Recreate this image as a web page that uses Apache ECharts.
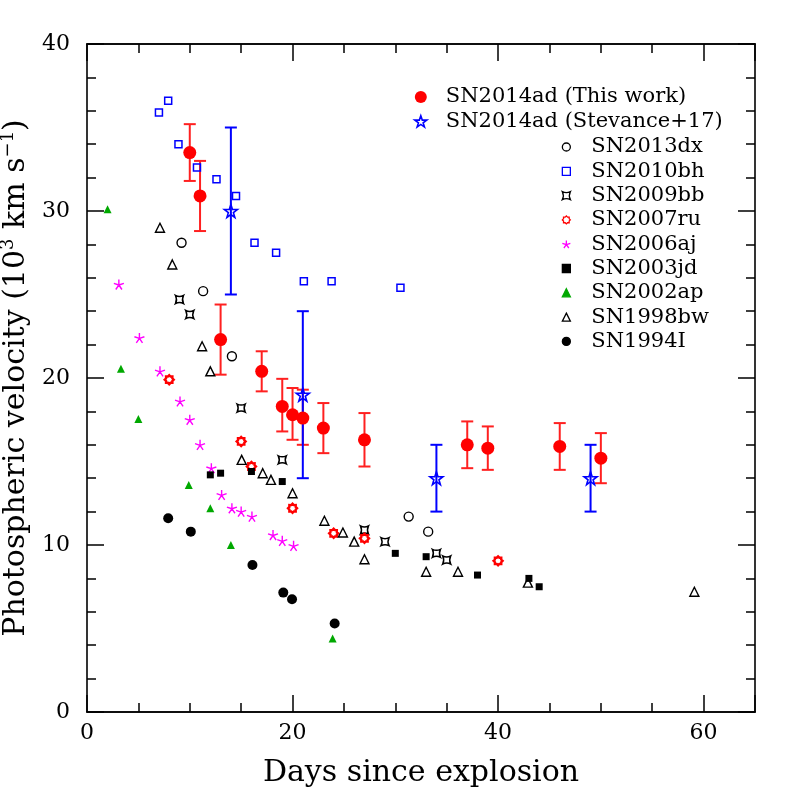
<!DOCTYPE html>
<html>
<head>
<meta charset="utf-8">
<script src="https://cdn.jsdelivr.net/npm/echarts@6/dist/echarts.min.js"></script>
<style>
html, body { margin: 0; padding: 0; background: #fff; }
#chart-container { width: 797px; height: 797px; }
</style>
</head>
<body>
<div id="chart-container"></div>
<script>
// SN2014ad, this work: day, velocity, lower and upper error
const adDays = [10, 11, 13, 17, 19, 20, 21, 23, 27, 37, 39, 46, 50];
const adVel = [33.5, 30.9, 22.3, 20.4, 18.3, 17.8, 17.6, 17.0, 16.3, 16.0, 15.8, 15.9, 15.2];
const adLo = [31.8, 28.8, 20.2, 19.2, 16.8, 16.3, 16.0, 15.5, 14.7, 14.6, 14.5, 14.5, 13.7];
const adHi = [35.2, 33.0, 24.4, 21.6, 19.95, 19.4, 19.3, 18.5, 17.9, 17.4, 17.1, 17.3, 16.7];

// SN2014ad, Stevance+17
const stDays = [14, 21, 34, 49];
const stVel = [30, 19, 14, 14];
const stLo = [25, 14, 12, 12];
const stHi = [35, 24, 16, 16];

// comparison objects, [day, velocity]
const sn2013dx = [[9.2, 28.1], [11.3, 25.2], [14.1, 21.3], [31.3, 11.7], [33.2, 10.8]];
const sn2010bh = [[7.0, 35.9], [7.9, 36.6], [8.9, 34.0], [10.7, 32.6], [12.6, 31.9], [14.5, 30.9],
    [16.3, 28.1], [18.4, 27.5], [21.1, 25.8], [23.8, 25.8], [30.5, 25.4]];
const sn2009bb = [[9, 24.7], [10, 23.8], [15, 18.2], [19, 15.1], [27, 10.9], [29, 10.2], [34, 9.5], [35, 9.1]];
const sn2007ru = [[8, 19.9], [15, 16.2], [16, 14.7], [20, 12.2], [24, 10.7], [27, 10.4], [40, 9.05]];
const sn2006aj = [[3.1, 25.6], [5.1, 22.4], [7.1, 20.4], [9.05, 18.6], [10, 17.5], [11, 16.0], [12.1, 14.6],
    [13.1, 13.0], [14.1, 12.2], [15, 12.0], [16.05, 11.7], [18.1, 10.6], [19, 10.25], [20.1, 9.95]];
const sn2003jd = [[12, 14.2], [13, 14.3], [16, 14.4], [19, 13.8], [30, 9.5], [33, 9.3], [38, 8.2], [43, 8.0], [44, 7.5]];
const sn2002ap = [[2, 30.1], [3.3, 20.55], [5, 17.55], [9.9, 13.6], [12, 12.2], [14, 10.0], [23.9, 4.4]];
const sn1998bw = [[7.1, 29.0], [8.3, 26.8], [11.2, 21.9], [12, 20.4], [15.05, 15.1], [17.1, 14.3], [17.9, 13.9],
    [20, 13.1], [23.1, 11.45], [24.9, 10.75], [26, 10.2], [27, 9.15], [33, 8.4], [36.1, 8.4], [42.9, 7.75], [59.1, 7.2]];
const sn1994I = [[7.9, 11.6], [10.1, 10.8], [16.1, 8.8], [19.1, 7.15], [19.95, 6.75], [24.1, 5.3]];

const FONT = 'DejaVu Serif';
const INK = '#000';

// symbol shapes
const starPath = 'path://M50,0 L61.8,35.1 L98.1,35.1 L68.8,56.7 L79.4,91 L50,70 L20.6,91 L31.2,56.7 L1.9,35.1 L38.2,35.1 Z';
const crossStarPath = 'path://M0,0 Q5,2.5 10,0 Q7.5,5 10,10 Q5,7.5 0,10 Q2.5,5 0,0 Z';
const asteriskPath = 'path://M50,50 L50,0 M50,50 L97.6,34.5 M50,50 L79.4,90.5 M50,50 L20.6,90.5 M50,50 L2.4,34.5';
function burstPath(n) {
    let d = '';
    for (let i = 0; i < n * 2; i++) {
        const r = i % 2 ? 38 : 50;
        const a = Math.PI * i / n;
        d += (i ? ' L' : 'M') + (50 + r * Math.cos(a)).toFixed(1) + ',' + (50 + r * Math.sin(a)).toFixed(1);
    }
    return 'path://' + d + ' Z';
}

function errorBars(name, days, lo, hi, color) {
    return {
        type: 'custom',
        name: name,
        silent: true,
        z: 2,
        data: days.map((d, i) => [d, lo[i], hi[i]]),
        encode: { x: 0, y: [1, 2] },
        renderItem: function (params, api) {
            const top = api.coord([api.value(0), api.value(2)]);
            const bot = api.coord([api.value(0), api.value(1)]);
            const hw = 6;
            const style = { stroke: color, lineWidth: 2, fill: null };
            return {
                type: 'group',
                children: [
                    { type: 'line', shape: { x1: top[0], y1: top[1], x2: bot[0], y2: bot[1] }, style: style },
                    { type: 'line', shape: { x1: top[0] - hw, y1: top[1], x2: top[0] + hw, y2: top[1] }, style: style },
                    { type: 'line', shape: { x1: bot[0] - hw, y1: bot[1], x2: bot[0] + hw, y2: bot[1] }, style: style }
                ]
            };
        }
    };
}

function scatter(name, data, symbol, size, fill, stroke, bw) {
    return {
        type: 'scatter',
        name: name,
        data: data,
        symbol: symbol,
        symbolSize: size,
        z: 3,
        itemStyle: { color: fill, borderColor: stroke, borderWidth: bw, opacity: 1 },
        emphasis: { disabled: true }
    };
}

const lineStyle = { color: INK, width: 1.6 };
function xAxisDef(pos, interval, len, labels) {
    return {
        type: 'value', position: pos, min: 0, max: 65, interval: interval,
        axisLine: { show: true, onZero: false, lineStyle: lineStyle },
        axisTick: { show: true, inside: true, length: len, lineStyle: { color: INK, width: 1.5 } },
        axisLabel: labels ? {
            show: true, margin: 10, color: INK, fontFamily: FONT, fontSize: 22,
            formatter: (v) => (v % 20 === 0 ? String(v) : '')
        } : { show: false },
        splitLine: { show: false }
    };
}
function yAxisDef(pos, labels) {
    return {
        type: 'value', position: pos, min: 0, max: 40, interval: 10,
        axisLine: { show: true, onZero: false, lineStyle: lineStyle },
        axisTick: { show: true, inside: true, length: 17, lineStyle: { color: INK, width: 1.5 } },
        minorTick: { show: true, splitNumber: 5, length: 9, lineStyle: { color: INK, width: 1.5 } },
        axisLabel: labels ? {
            show: true, margin: 17, color: INK, fontFamily: FONT, fontSize: 22
        } : { show: false },
        splitLine: { show: false }
    };
}

const xMain = xAxisDef('bottom', 20, 17, true);
xMain.name = 'Days since explosion';
xMain.nameLocation = 'middle';
xMain.nameGap = 46;
xMain.nameTextStyle = { color: INK, fontFamily: FONT, fontSize: 30 };

const yMain = yAxisDef('left', true);
yMain.name = '{a|Photospheric velocity (10}{b|3}{a| km s}{b|\u22121}{a|)}';
yMain.nameLocation = 'middle';
yMain.nameGap = 51;
yMain.nameTextStyle = {
    rich: {
        a: { color: INK, fontFamily: FONT, fontSize: 30, lineHeight: 34 },
        b: { color: INK, fontFamily: FONT, fontSize: 18, lineHeight: 20, verticalAlign: 'top' }
    }
};

function legendText(pad) {
    return { color: INK, fontFamily: FONT, fontSize: 21, lineHeight: 24, padding: [0, 0, 0, pad] };
}

const chart = echarts.init(document.getElementById('chart-container'));
chart.setOption({
    backgroundColor: '#fff',
    animation: false,
    grid: { left: 87, top: 44, width: 668, height: 668, containLabel: false, outerBoundsMode: 'none' },
    xAxis: [
        xMain,
        xAxisDef('bottom', 5, 9, false),
        xAxisDef('top', 20, 17, false),
        xAxisDef('top', 5, 9, false)
    ],
    yAxis: [yMain, yAxisDef('right', false)],
    legend: [
        {
            orient: 'vertical', left: 409, top: 80, itemWidth: 12, itemHeight: 12, itemGap: 0.4,
            textStyle: legendText(14), selectedMode: false,
            data: [
                { name: 'SN2014ad (This work)' },
                { name: 'SN2014ad (Stevance+17)', itemStyle: { borderWidth: 1.6 } }
            ]
        },
        {
            orient: 'vertical', left: 556.7, top: 130, itemWidth: 8, itemHeight: 8, itemGap: 0.3,
            textStyle: legendText(16), selectedMode: false,
            data: ['SN2013dx', 'SN2010bh', 'SN2009bb', 'SN2007ru', 'SN2006aj', 'SN2003jd', 'SN2002ap', 'SN1998bw', 'SN1994I']
                .map((n) => ({ name: n, itemStyle: { borderWidth: 1.3 } }))
        }
    ],
    series: [
        scatter('SN2013dx', sn2013dx, 'circle', 9, 'rgba(0,0,0,0)', INK, 1.4),
        scatter('SN2010bh', sn2010bh, 'rect', 7, 'rgba(0,0,0,0)', '#0000ff', 1.5),
        scatter('SN2009bb', sn2009bb, crossStarPath, 8, 'rgba(0,0,0,0)', INK, 1.5),
        scatter('SN2007ru', sn2007ru, burstPath(8), 9, '#fff', '#ff0000', 2.4),
        scatter('SN2006aj', sn2006aj, asteriskPath, 10, 'rgba(0,0,0,0)', '#ff00ff', 1.4),
        scatter('SN2003jd', sn2003jd, 'rect', 7, INK, INK, 0),
        scatter('SN2002ap', sn2002ap, 'triangle', 8, '#00a800', '#00a800', 0),
        scatter('SN1998bw', sn1998bw, 'triangle', 9, 'rgba(0,0,0,0)', INK, 1.4),
        scatter('SN1994I', sn1994I, 'circle', 10, INK, INK, 0),
        errorBars('adErr', adDays, adLo, adHi, '#ff2020'),
        scatter('SN2014ad (This work)', adDays.map((d, i) => [d, adVel[i]]), 'circle', 13, '#ff0000', '#ff0000', 0),
        errorBars('stErr', stDays, stLo, stHi, '#0000ff'),
        scatter('SN2014ad (Stevance+17)', stDays.map((d, i) => [d, stVel[i]]), starPath, 13, 'rgba(0,0,0,0)', '#0000ff', 1.6)
    ]
});
</script>
</body>
</html>
